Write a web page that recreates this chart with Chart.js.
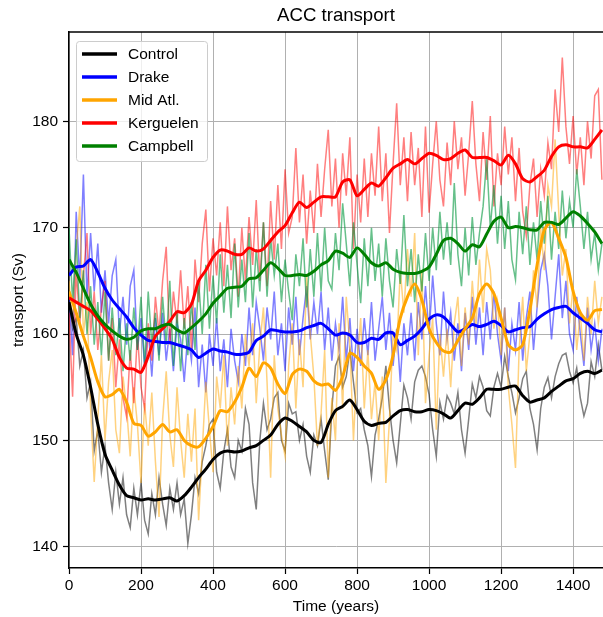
<!DOCTYPE html>
<html><head><meta charset="utf-8">
<script src="https://cdn.jsdelivr.net/npm/chart.js@4/dist/chart.umd.min.js"></script>
<style>html,body{margin:0;padding:0;background:#fff}#wrap{width:603px;height:617px}</style>
</head><body><div id="wrap"><canvas id="c" width="603" height="617"></canvas></div>
<script>
const seriesNames = ["Control","Drake","Mid Atl.","Kerguelen","Campbell"];
const xTicks = [0,200,400,600,800,1000,1200,1400];
const yTicks = [140,150,160,170,180];

const rawYears = [0,10,20,30,40,50,60,70,80,90,100,110,120,130,140,150,160,170,180,190,200,210,220,230,240,250,260,270,280,290,300,310,320,330,340,350,360,370,380,390,400,410,420,430,440,450,460,470,480,490,500,510,520,530,540,550,560,570,580,590,600,610,620,630,640,650,660,670,680,690,700,710,720,730,740,750,760,770,780,790,800,810,820,830,840,850,860,870,880,890,900,910,920,930,940,950,960,970,980,990,1000,1010,1020,1030,1040,1050,1060,1070,1080,1090,1100,1110,1120,1130,1140,1150,1160,1170,1180,1190,1200,1210,1220,1230,1240,1250,1260,1270,1280,1290,1300,1310,1320,1330,1340,1350,1360,1370,1380,1390,1400,1410,1420,1430,1440,1450,1460,1470,1480];
const smoothYears = [0,20,40,60,80,100,120,140,160,180,200,220,240,260,280,300,320,340,360,380,400,420,440,460,480,500,520,540,560,580,600,620,640,660,680,700,720,740,760,780,800,820,840,860,880,900,920,940,960,980,1000,1020,1040,1060,1080,1100,1120,1140,1160,1180,1200,1220,1240,1260,1280,1300,1320,1340,1360,1380,1400,1420,1440,1460,1480];

const controlRaw = [163.5,160.5,161.5,157.0,158.5,154.0,155.5,149.0,151.0,147.0,
149.5,146.0,143.5,147.0,144.0,146.5,143.0,141.8,145.5,143.0,
146.0,142.5,141.2,145.0,143.0,146.5,144.0,142.0,145.5,143.5,
146.0,143.0,144.5,140.3,143.0,146.5,145.0,148.0,149.5,151.5,
152.0,147.0,145.5,149.0,151.0,147.5,146.5,150.0,149.0,153.0,
151.5,146.0,143.5,150.0,153.5,151.0,152.0,154.0,154.5,150.0,
149.0,153.5,152.5,152.7,150.0,151.5,148.5,147.0,150.5,149.5,
152.0,149.0,146.3,153.0,157.0,157.9,155.0,156.0,158.5,155.5,
152.6,153.0,151.0,149.5,146.6,150.5,152.0,154.0,157.0,153.0,
150.0,147.9,151.5,155.2,154.0,152.0,155.5,156.6,157.0,156.0,
154.3,151.0,148.5,153.6,152.0,154.2,153.5,152.5,154.5,151.0,
148.8,152.0,155.3,154.0,156.0,155.0,152.8,152.3,155.0,156.3,
155.0,157.9,156.0,154.5,152.6,154.0,155.8,156.5,153.0,151.5,
149.1,153.0,155.0,155.9,154.0,156.0,157.2,158.0,158.2,156.5,
155.4,156.8,154.0,152.3,153.5,157.4,156.0,159.0,156.6];
const drakeRaw = [163.5,158.0,171.5,165.0,175.0,163.5,169.5,164.0,168.5,162.0,
166.0,161.0,165.5,167.0,160.0,163.5,159.0,164.5,166.0,158.5,
161.5,157.0,160.5,156.0,161.5,158.0,162.0,157.5,160.5,156.5,
161.0,159.5,155.5,160.0,157.5,162.5,155.0,159.0,154.5,160.0,
157.0,161.5,156.5,159.5,155.0,160.5,157.5,155.5,160.0,157.0,
162.5,158.0,163.0,160.5,157.5,162.5,159.5,164.0,158.0,161.0,
156.5,162.5,159.0,163.5,158.0,161.5,164.5,159.5,163.0,160.0,
164.0,158.5,162.5,157.5,161.0,158.5,163.5,157.5,161.5,156.5,
160.5,157.0,161.5,158.0,163.0,157.5,160.5,163.5,158.5,162.0,
157.0,160.5,155.5,161.0,158.0,162.0,157.5,163.0,159.5,164.5,
160.0,165.5,161.0,158.0,164.0,159.5,162.0,157.5,161.0,156.5,
162.0,158.5,163.5,159.0,162.5,158.0,163.0,159.5,164.0,160.0,
157.5,162.5,156.5,161.0,158.5,163.0,157.5,161.5,164.0,158.5,
162.5,166.0,167.5,164.5,159.5,163.5,167.5,161.5,165.0,160.0,
158.5,163.5,160.0,157.0,162.5,158.5,161.0,157.5,160.5];
const midAtlRaw = [165.0,161.0,168.0,172.0,160.0,163.0,153.0,146.1,152.0,158.0,
150.0,155.5,158.5,151.0,148.8,156.0,153.0,148.5,155.0,151.5,
146.0,153.5,149.5,154.5,148.0,142.8,152.0,156.5,150.5,147.5,
155.0,150.0,146.5,152.5,148.0,153.0,142.5,149.0,155.5,151.0,
147.0,156.0,153.0,158.0,149.5,155.0,151.5,157.0,153.0,160.0,
157.0,161.0,153.5,159.0,162.5,155.5,146.5,158.0,153.0,150.5,
148.5,157.0,161.0,153.0,159.5,155.0,165.5,160.0,156.0,149.5,
152.5,158.5,146.5,154.0,150.0,161.0,153.0,163.5,159.0,150.0,
157.0,161.5,153.0,158.5,152.0,155.5,150.0,156.0,146.0,152.0,
160.0,158.5,166.0,162.0,168.0,163.5,169.5,158.0,166.0,153.5,
158.0,161.5,151.0,160.0,156.0,160.5,155.0,161.0,163.5,157.0,
162.5,159.0,165.0,160.5,167.0,162.0,168.0,166.0,160.5,163.0,
158.0,162.5,155.0,151.5,147.4,158.5,163.5,156.5,160.0,166.0,
162.5,170.0,166.0,174.0,172.0,178.3,171.5,165.5,168.0,161.0,
164.5,158.5,162.0,157.5,163.5,160.0,165.0,161.0,163.5];
const kerguelenRaw = [162.0,154.1,166.0,161.0,165.5,169.5,160.0,164.0,158.5,162.5,
165.0,157.5,161.5,155.0,159.5,154.0,152.2,158.5,153.5,160.0,
155.0,153.0,161.0,157.5,163.5,160.0,165.0,168.2,159.0,164.0,
161.0,166.0,160.5,164.5,158.5,167.0,163.0,168.5,171.7,164.0,
169.0,165.5,170.5,164.5,172.0,166.0,169.0,163.5,170.0,165.0,
171.0,166.5,172.6,165.0,170.5,164.5,172.5,167.0,174.0,168.0,
175.5,169.5,171.0,177.5,170.5,175.0,168.5,173.5,169.5,176.0,
171.0,175.5,179.2,172.0,176.5,170.0,177.0,173.0,178.5,168.0,
175.0,170.5,176.5,171.0,177.0,173.0,179.5,172.5,177.0,169.5,
176.0,181.7,174.0,178.5,172.5,179.0,174.0,177.5,171.0,179.5,
171.4,176.0,180.0,174.5,172.0,178.0,174.0,180.0,175.5,178.5,
173.0,177.0,181.9,176.0,172.5,179.0,174.5,180.5,172.0,177.0,
174.0,179.5,175.0,178.5,172.5,177.5,171.5,169.2,174.0,176.5,
171.0,175.5,173.0,178.0,175.5,183.0,179.0,186.0,179.5,176.0,
180.5,175.0,178.5,174.0,180.0,176.5,182.4,183.0,174.5];
const campbellRaw = [170.0,163.0,168.9,161.5,166.0,160.0,164.5,159.0,163.0,158.0,
164.0,157.5,162.5,158.0,161.5,156.5,161.0,157.5,162.5,158.5,
163.5,157.0,164.0,159.0,162.0,157.5,163.5,159.0,165.0,157.0,
162.0,156.5,161.5,158.0,163.0,158.5,165.0,160.0,166.5,160.5,
165.5,161.0,167.5,162.0,166.5,161.5,168.5,162.5,167.0,163.0,
169.5,162.5,168.0,164.0,170.5,163.5,169.0,165.5,168.5,163.0,
167.0,164.0,161.3,167.5,164.5,169.0,162.5,168.0,163.5,169.5,
164.0,170.0,165.0,164.2,169.5,166.0,172.3,168.5,164.5,170.5,
166.5,162.9,169.0,164.5,170.0,165.0,168.5,163.5,169.0,165.0,
162.5,168.0,164.7,171.2,164.5,168.0,163.0,167.5,164.0,169.5,
165.0,170.0,166.0,171.5,167.0,170.5,166.5,174.2,167.5,164.5,
170.0,165.5,171.0,166.5,169.5,172.0,176.5,170.0,174.0,168.5,
173.0,168.0,172.5,167.0,165.1,171.5,167.5,172.0,166.5,170.5,
167.0,172.5,168.5,173.0,167.0,171.5,168.0,173.5,169.0,172.5,
170.0,175.5,172.0,168.0,171.5,167.0,169.5,166.0,168.5];

const controlSmooth = [163.0,160.0,158.0,155.0,151.5,148.7,147.2,145.8,144.8,144.6,
144.4,144.5,144.4,144.5,144.6,144.3,144.8,145.6,146.5,147.3,
148.2,148.8,149.0,148.9,149.0,149.3,149.5,150.0,150.5,151.5,
152.1,151.8,151.3,150.8,150.0,149.8,151.5,152.8,153.2,153.8,
152.9,151.8,151.4,151.6,151.7,152.3,152.8,152.9,152.7,152.7,
152.9,152.8,152.5,152.1,152.8,153.5,153.4,154.0,154.8,154.8,
154.8,155.0,155.1,154.2,153.6,153.8,154.0,154.6,155.1,155.6,
155.8,156.3,156.5,156.3,156.6];
const drakeSmooth = [165.5,166.3,166.4,167.0,165.8,164.3,163.2,162.4,161.6,160.6,
159.9,159.4,159.3,159.2,159.2,159.0,158.8,158.5,157.8,158.2,
158.6,158.4,158.3,158.1,158.1,158.3,159.4,159.8,160.4,160.3,
160.2,160.2,160.3,160.6,160.8,161.0,160.5,159.9,160.1,159.9,
159.2,159.2,159.6,159.5,160.1,160.1,159.0,159.4,159.8,160.5,
161.4,161.8,161.6,160.9,160.2,160.5,160.9,160.7,160.9,161.2,
160.8,160.2,160.4,160.6,160.7,161.4,161.9,162.3,162.5,162.6,
162.0,161.5,161.0,160.4,160.2];
const midAtlSmooth = [164.0,162.0,159.8,157.8,155.5,154.1,154.3,154.8,153.6,151.6,
151.4,150.4,150.8,151.5,150.8,151.0,150.0,149.5,149.4,150.2,
151.3,152.8,152.7,153.6,155.0,156.8,156.0,157.3,156.8,155.3,
154.4,156.2,156.7,156.5,155.6,155.2,155.3,154.7,156.0,158.2,
157.8,157.0,156.3,154.8,155.7,158.0,161.5,163.5,164.7,163.2,
160.5,159.2,158.4,158.3,159.4,160.5,161.5,163.8,164.7,163.8,
161.5,159.0,158.5,159.0,162.3,166.5,169.8,170.5,169.0,167.2,
164.0,162.0,161.3,162.2,162.3];
const kerguelenSmooth = [163.4,163.0,162.6,162.2,161.4,160.5,159.5,157.8,156.8,156.7,
156.4,157.9,159.8,160.5,161.2,162.1,162.0,162.8,165.0,166.0,
167.2,167.9,167.8,167.5,167.5,168.1,167.8,168.0,168.8,169.6,
170.2,171.4,172.4,171.9,172.4,172.9,172.9,172.9,174.3,174.5,
173.0,173.6,174.2,173.9,174.7,175.6,176.0,176.4,176.0,176.5,
177.0,176.8,176.4,176.5,177.0,177.3,176.6,176.6,176.6,176.3,
175.9,176.8,176.0,174.6,174.3,174.8,175.4,176.7,177.6,177.8,
177.6,177.6,177.5,178.3,179.2];
const campbellSmooth = [167.0,165.8,164.3,162.8,161.7,160.9,160.3,159.8,159.5,159.7,
160.3,160.5,160.5,160.8,160.9,160.4,160.1,160.6,161.2,161.9,
162.9,163.6,164.3,164.4,164.5,165.2,165.3,166.0,166.7,166.2,
165.5,165.5,165.6,165.5,165.9,166.5,166.9,167.8,167.6,167.2,
168.1,167.5,166.7,166.4,166.7,166.1,165.8,165.7,165.7,165.9,
166.3,167.5,168.8,169.0,168.5,167.8,168.4,168.2,169.4,170.6,
171.0,170.0,170.1,170.0,169.8,169.8,170.5,170.5,170.3,170.9,
171.5,171.1,170.4,169.6,168.5];

const rawSets = [controlRaw, drakeRaw, midAtlRaw, kerguelenRaw, campbellRaw];
const smoothSets = [controlSmooth, drakeSmooth, midAtlSmooth, kerguelenSmooth, campbellSmooth];
const solidColors = ["#000000","#0000ff","#ffa500","#ff0000","#008000"];
const rawColors = ["rgba(0,0,0,0.5)","rgba(0,0,255,0.5)","rgba(255,165,0,0.5)","rgba(255,0,0,0.5)","rgba(0,150,60,0.6)"];

const FONT = '"Liberation Sans", Arial, Helvetica, sans-serif';
const datasets = [];
rawSets.forEach((arr, i) => {
  datasets.push({label: seriesNames[i] + " raw", data: rawYears.map((x, j) => ({x, y: arr[j]})),
    borderColor: rawColors[i], borderWidth: 1.5, pointRadius: 0, tension: 0, order: 10 - i});
});
smoothSets.forEach((arr, i) => {
  datasets.push({label: seriesNames[i], data: smoothYears.map((x, j) => ({x, y: arr[j]})),
    borderColor: solidColors[i], borderWidth: 3, pointRadius: 0, tension: 0.25, order: 5 - i});
});

const decor = {
  id: 'decor',
  afterDatasetsDraw(chart) {
    const {ctx, chartArea: a} = chart;
    ctx.save();
    ctx.strokeStyle = '#000'; ctx.lineWidth = 1.5;
    ctx.beginPath(); ctx.moveTo(a.left, a.top); ctx.lineTo(a.right + 2, a.top); ctx.stroke();
    // legend
    const bx = 76.5, by = 41.5, bw = 131, bh = 120;
    ctx.beginPath();
    ctx.roundRect(bx, by, bw, bh, 3);
    ctx.fillStyle = 'rgba(255,255,255,0.8)'; ctx.fill();
    ctx.strokeStyle = '#cccccc'; ctx.lineWidth = 1; ctx.stroke();
    ctx.font = '15.5px ' + FONT; ctx.textBaseline = 'middle'; ctx.textAlign = 'left';
    seriesNames.forEach((n, i) => {
      const y = 54 + i * 23;
      ctx.strokeStyle = solidColors[i]; ctx.lineWidth = 3.5;
      ctx.beginPath(); ctx.moveTo(82, y); ctx.lineTo(117, y); ctx.stroke();
      ctx.fillStyle = '#000'; ctx.fillText(n, 128, y + 1);
    });
    // title
    ctx.font = '18.6px ' + FONT; ctx.textAlign = 'center'; ctx.fillStyle = '#000';
    ctx.fillText('ACC transport', (a.left + a.right) / 2, 16);
    ctx.restore();
  }
};

new Chart(document.getElementById('c'), {
  type: 'line',
  data: {datasets},
  options: {
    responsive: false, animation: false, devicePixelRatio: 1,
    layout: {padding: {top: 32, left: 0, right: 0, bottom: 0}},
    plugins: {legend: {display: false}, tooltip: {enabled: false}, title: {display: false}},
    scales: {
      x: {type: 'linear', min: 0, max: 1483,
        afterBuildTicks: s => { s.ticks = xTicks.map(v => ({value: v})); },
        afterFit: s => { s.height = 49; },
        grid: {color: '#b0b0b0', lineWidth: 1, tickLength: 6, tickColor: '#000', tickWidth: 1.2},
        border: {color: '#000', width: 1.5},
        ticks: {color: '#000', font: {size: 15.5, family: FONT}, padding: 2, maxRotation: 0, autoSkip: false,
          callback: v => String(v)},
        title: {display: true, text: 'Time (years)', color: '#000', font: {size: 15.5, family: FONT}, padding: {top: 0, bottom: 1}}
      },
      y: {type: 'linear', min: 138.0, max: 188.4,
        afterBuildTicks: s => { s.ticks = yTicks.map(v => ({value: v})); },
        afterFit: s => { s.width = 69; },
        grid: {color: '#b0b0b0', lineWidth: 1, tickLength: 6, tickColor: '#000', tickWidth: 1.2},
        border: {color: '#000', width: 1.5},
        ticks: {color: '#000', font: {size: 15.5, family: FONT}, padding: 5, autoSkip: false,
          callback: v => String(v)},
        title: {display: true, text: 'transport (Sv)', color: '#000', font: {size: 15.5, family: FONT}, padding: {top: 9.5, bottom: 0}}
      }
    }
  },
  plugins: [decor]
});
</script>
</body></html>
